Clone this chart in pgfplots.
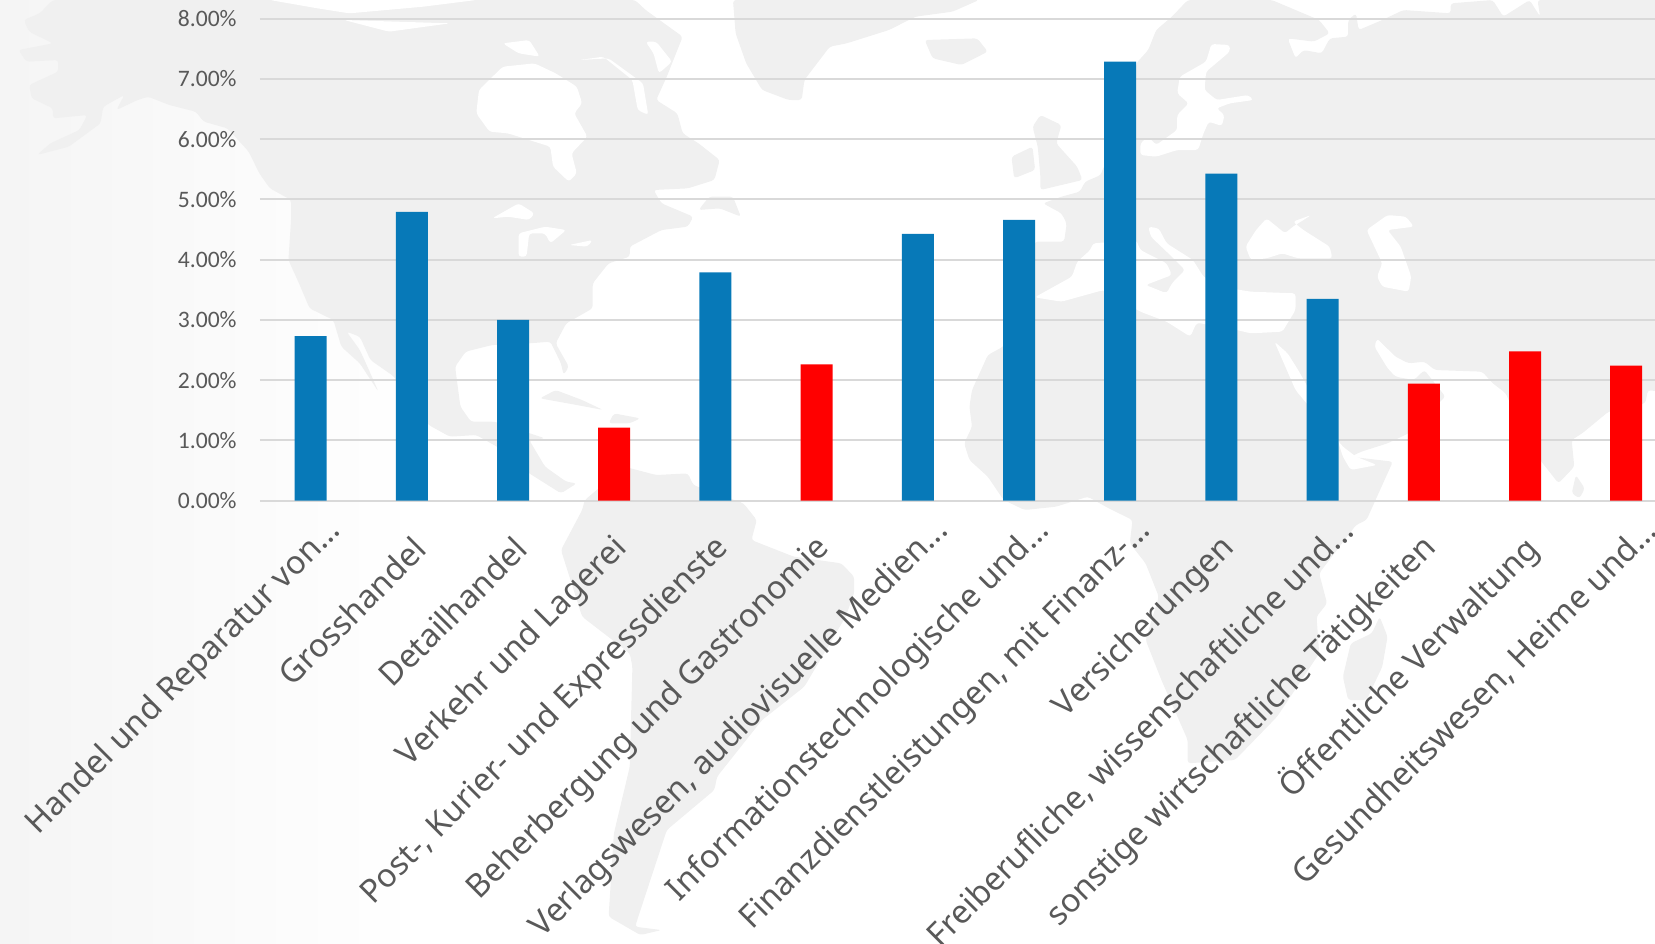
\documentclass[border=0pt]{standalone}
\usepackage{fontspec}
\setmainfont{Carlito}
\newfontfamily\catfont{Noto Sans}
\usepackage{pgfplots}
\pgfplotsset{compat=1.18}
\definecolor{barblue}{HTML}{0779B8}
\definecolor{barred}{HTML}{FF0000}
\definecolor{gridgray}{HTML}{D9D9D9}
\definecolor{txt}{HTML}{595959}
\definecolor{land}{HTML}{F0F0F0}
\newcommand{\dd}{.\kern0pt.\kern0pt.}
% labels that were not cut short sit further down their own line
\newcommand{\tl}[1]{#1\hspace*{12.3pt}}
\begin{document}
\begin{tikzpicture}
\path[use as bounding box] (0pt,0pt) rectangle (827.5pt,-471.5pt);
\clip (0pt,0pt) rectangle (827.5pt,-471.5pt);
% backdrop: left fade
\shade[left color=black!4,right color=white,draw=none] (0pt,0pt) rectangle (210pt,-471.5pt);
% world map, traced by hand (left half)
\begin{scope}[x=0.2646pt,y=-0.16667pt,rounded corners=1.5pt]
\fill[land] (100,0)--(75,40)--(45,60)--(55,95)--(100,130)--(35,150)--(50,185)--(110,180)--(110,215)--(55,255)--(60,295)--(100,325)--(100,355)--(165,345)--(150,390)--(95,430)--(70,465)--(130,440)--(190,370)--(195,320)--(235,285)--(220,330)--(260,300)--(280,290)--(320,315)--(370,335)--(385,365)--(430,385)--(470,455)--(490,520)--(510,565)--(550,600)--(550,660)--(545,780)--(565,850)--(585,925)--(630,960)--(645,1040)--(680,1090)--(715,1175)--(700,1120)--(680,1050)--(655,995)--(680,1010)--(700,1080)--(745,1130)--(770,1200)--(810,1275)--(850,1310)--(900,1305)--(950,1350)--(1000,1420)--(1060,1480)--(1090,1450)--(1070,1445)--(1030,1400)--(1000,1320)--(1030,1315)--(935,1265)--(890,1265)--(870,1220)--(860,1100)--(880,1055)--(930,1035)--(1000,1030)--(1040,1025)--(1060,1090)--(1065,1125)--(1075,1100)--(1050,1030)--(1070,970)--(1120,925)--(1120,850)--(1150,790)--(1190,770)--(1190,740)--(1250,690)--(1300,680)--(1310,650)--(1250,610)--(1235,570)--(1300,565)--(1350,540)--(1360,480)--(1320,430)--(1290,400)--(1280,340)--(1240,300)--(1260,230)--(1290,110)--(1220,30)--(1200,0)--cycle;
% greenland
\fill[land] (1385,0)--(1390,100)--(1410,190)--(1440,270)--(1490,300)--(1515,300)--(1520,240)--(1568,140)--(1600,130)--(1680,90)--(1730,50)--(1800,35)--(1850,0)--cycle;
% newfoundland, cuba, hispaniola
\fill[land] (1320,630)--(1340,590)--(1385,590)--(1400,650)--(1360,625)--cycle;
\fill[land] (1020,1195)--(1050,1170)--(1100,1200)--(1140,1230)--(1090,1215)--cycle;
\fill[land] (1160,1240)--(1210,1255)--(1190,1270)--(1150,1270)--cycle;
% south america
\fill[land] (1105,1500)--(1180,1400)--(1240,1425)--(1300,1420)--(1310,1455)--(1405,1510)--(1430,1560)--(1420,1620)--(1500,1670)--(1590,1690)--(1614,1730)--(1614,1780)--(1598,1850)--(1520,2060)--(1440,2160)--(1355,2330)--(1350,2370)--(1260,2490)--(1200,2780)--(1250,2790)--(1210,2805)--(1150,2750)--(1160,2500)--(1190,2300)--(1195,2000)--(1190,1960)--(1100,1850)--(1060,1650)--(1100,1530)--cycle;
% hudson bay and channels, great lakes
\fill[white] (900,340)--(905,270)--(950,200)--(1010,190)--(1050,220)--(1090,260)--(1100,310)--(1085,340)--(1110,410)--(1080,460)--(1090,520)--(1075,545)--(1045,500)--(1040,440)--(960,400)--(925,395)--cycle;
\fill[white] (650,60)--(850,70)--(735,95)--cycle;
\fill[white] (510,0)--(600,25)--(660,40)--(800,20)--(900,0)--cycle;
\fill[white] (950,130)--(1000,120)--(1020,170)--(980,160)--cycle;
\fill[white] (1095,180)--(1140,170)--(1195,240)--(1205,330)--(1225,345)--(1215,250)--(1150,175)--cycle;
\fill[white] (1220,125)--(1240,125)--(1270,185)--(1245,220)--(1235,160)--cycle;
\fill[white] (930,655)--(980,610)--(1010,640)--(1000,660)--(960,650)--cycle;
\fill[white] (980,700)--(1030,680)--(1070,690)--(1040,730)--(1030,700)--(1000,700)--(995,770)--(980,770)--cycle;
\fill[white] (1075,735)--(1120,720)--(1110,740)--cycle;
\end{scope}
% right half
\begin{scope}[shift={(415pt,0pt)},x=0.263pt,y=-0.16667pt,rounded corners=1.5pt]
\fill[land] (680,0)--(840,0)--(930,60)--(950,100)--(920,125)--(870,115)--(885,175)--(900,150)--(935,160)--(950,115)--(985,110)--(985,60)--(1000,40)--(1005,90)--(1050,60)--(1090,30)--(1180,40)--(1180,10)--(1260,0)--(1280,50)--(1330,0)--(1350,50)--(1345,0)--(1600,0)--(1600,1180)--(1555,1170)--(1550,1210)--(1480,1235)--(1430,1300)--(1410,1320)--(1415,1400)--(1385,1450)--(1350,1380)--(1290,1200)--(1285,1180)--(1260,1150)--(1240,1115)--(1150,1110)--(1130,1085)--(1100,1090)--(1075,1070)--(1040,1015)--(1035,1040)--(1060,1105)--(1075,1130)--(1110,1140)--(1130,1110)--(1170,1190)--(1150,1220)--(1100,1300)--(1060,1330)--(1010,1355)--(990,1370)--(1070,1385)--(1020,1560)--(1000,1575)--(930,1720)--(945,1810)--(925,1850)--(930,1960)--(850,2150)--(770,2280)--(680,2290)--(680,2220)--(630,2040)--(600,1920)--(625,1790)--(600,1690)--(570,1630)--(575,1560)--(530,1525)--(490,1490)--(430,1520)--(370,1530)--(330,1500)--(300,1430)--(265,1380)--(255,1330)--(270,1280)--(265,1220)--(270,1170)--(300,1065)--(329,1040)--(389,895)--(389,725)--(445,725)--(450,670)--(440,640)--(405,610)--(440,590)--(475,575)--(485,545)--(515,525)--(520,500)--(582,420)--(578,300)--(582,190)--(605,150)--(620,90)--(650,50)--cycle;
% islands
\fill[land] (180,120)--(280,115)--(300,155)--(250,195)--(195,175)--cycle;
\fill[land] (400,345)--(440,375)--(430,430)--(470,500)--(480,540)--(400,570)--(400,530)--(395,440)--(385,380)--cycle;
\fill[land] (345,470)--(385,440)--(390,510)--(350,535)--cycle;
\fill[land] (1418,1425)--(1435,1465)--(1425,1495)--(1410,1480)--cycle;
\fill[land] (1045,1850)--(1060,1910)--(1050,2000)--(1020,2100)--(985,2100)--(975,2030)--(990,1930)--(1030,1900)--cycle;
% inland seas
\fill[white] (590,465)--(620,470)--(660,450)--(700,450)--(710,400)--(720,365)--(745,378)--(750,345)--(735,325)--(760,310)--(805,300)--(795,285)--(735,300)--(712,270)--(715,215)--(760,155)--(760,135)--(725,132)--(715,185)--(665,230)--(660,280)--(682,310)--(660,345)--(660,390)--(620,435)--(605,410)--(590,430)--cycle;
\fill[white] (389,892)--(440,905)--(520,870)--(590,935)--(640,965)--(685,1010)--(697,968)--(760,985)--(800,1000)--(860,995)--(885,930)--(885,880)--(800,875)--(740,860)--(710,830)--(690,780)--(640,730)--(625,685)--(605,680)--(610,710)--(650,770)--(675,810)--(650,850)--(640,880)--(600,855)--(650,825)--(640,790)--(590,750)--(582,720)--(500,730)--(495,750)--(470,785)--(460,830)--cycle;
\fill[white] (790,740)--(810,690)--(830,655)--(865,700)--(880,680)--(915,645)--(880,665)--(900,690)--(950,740)--(955,775)--(890,775)--(860,760)--(830,775)--(800,780)--cycle;
\fill[white] (1020,690)--(1060,645)--(1095,650)--(1110,680)--(1060,690)--(1085,740)--(1105,830)--(1100,875)--(1050,860)--(1040,830)--(1050,790)--cycle;
\fill[white] (845,1025)--(870,1060)--(890,1110)--(965,1320)--(975,1370)--(990,1410)--(1040,1395)--(1000,1370)--(975,1340)--(885,1170)--cycle;
\end{scope}
\begin{axis}[
  at={(130pt,-250.25pt)},anchor=south west,
  scale only axis,
  width=708.4pt,height=240.85pt,
  xmin=-0.5,xmax=13.5,
  ymin=0,ymax=8,
  axis line style={draw=none},
  tick style={draw=none},
  ymajorgrids=true,
  grid style={gridgray,line width=1pt},
  clip=false,
  ytick={0,1,2,3,4,5,6,7,8},
  yticklabel={\pgfmathprintnumber[assume math mode=true,fixed,fixed zerofill,precision=2]{\tick}\%},
  yticklabel style={font=\fontsize{11.8}{12}\selectfont,text=txt,inner sep=0pt,xshift=-11.5pt},
  xtick={0,1,2,3,4,5,6,7,8,9,10,11,12,13},
  xticklabels={{Handel und Reparatur von\dd},\tl{Grosshandel},\tl{Detailhandel},\tl{Verkehr und Lagerei},\tl{Post-, Kurier- und Expressdienste},\tl{Beherbergung und Gastronomie},{Verlagswesen, audiovisuelle Medien\dd},Informationstechnologische und\dd,{Finanzdienstleistungen, mit Finanz-\dd},\tl{Versicherungen},{Freiberufliche, wissenschaftliche und\dd},\tl{sonstige wirtschaftliche Tätigkeiten},\tl{Öffentliche Verwaltung},{Gesundheitswesen, Heime und\dd}},
  xticklabel style={font=\catfont\fontsize{16.2}{18}\selectfont,text=txt,inner sep=0pt,rotate=45,anchor=east,xshift=3.2pt,yshift=-15pt},
  ybar,
  bar width=16pt,
]
\addplot[ybar,bar shift=0pt,fill=barblue,draw=none] coordinates {
  (0,2.73)(1,4.795)(2,3.00)(4,3.79)(6,4.43)(7,4.66)(8,7.29)(9,5.43)(10,3.35)
};
\addplot[ybar,bar shift=0pt,fill=barred,draw=none] coordinates {
  (3,1.21)(5,2.26)(11,1.94)(12,2.475)(13,2.24)
};
\end{axis}
\end{tikzpicture}
\end{document}
